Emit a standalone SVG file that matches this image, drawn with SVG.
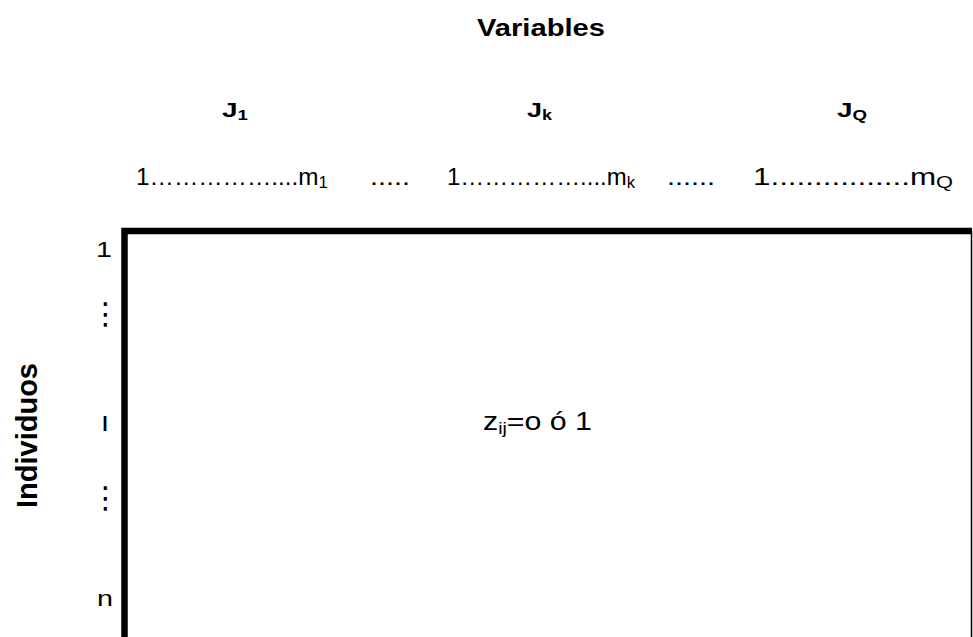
<svg xmlns="http://www.w3.org/2000/svg" width="973" height="637" viewBox="0 0 973 637">
<style>
text{font-family:"Liberation Sans",Arial,sans-serif;fill:#000}
.b{font-weight:bold}
.row{font-size:23px}
.lab{font-size:22px;text-anchor:middle}
.vd{font-family:"DejaVu Sans",sans-serif;font-size:30px;text-anchor:middle}
</style>
<rect width="973" height="637" fill="#fff"/>
<g id="title">
<text class="b" x="477" y="36" font-size="24" textLength="128" lengthAdjust="spacingAndGlyphs">Variables</text>
</g>
<g id="variables">
<text class="b" x="222" y="117" font-size="21" textLength="26" lengthAdjust="spacingAndGlyphs">J<tspan font-size="14" dy="3">1</tspan></text>
<text class="b" x="527" y="117" font-size="21" textLength="25" lengthAdjust="spacingAndGlyphs">J<tspan font-size="14" dy="3">k</tspan></text>
<text class="b" x="837" y="117" font-size="21" textLength="30" lengthAdjust="spacingAndGlyphs">J<tspan font-size="14" dy="3">Q</tspan></text>
</g>
<g id="categories">
<text class="row" x="136" y="185" textLength="192" lengthAdjust="spacingAndGlyphs">1……………....m<tspan font-size="16" dy="3">1</tspan></text>
<text class="row" x="370" y="185" textLength="40" lengthAdjust="spacingAndGlyphs">.....</text>
<text class="row" x="447" y="185" textLength="188" lengthAdjust="spacingAndGlyphs">1……………....m<tspan font-size="16" dy="3">k</tspan></text>
<text class="row" x="667" y="185" textLength="48" lengthAdjust="spacingAndGlyphs">......</text>
<text class="row" x="753" y="185" textLength="200" lengthAdjust="spacingAndGlyphs">1................m<tspan font-size="16" dy="3">Q</tspan></text>
</g>
<g id="individuos">
<text class="b" font-size="29" text-anchor="middle" transform="translate(37 435.5) rotate(-90)">Individuos</text>
</g>
<g id="row-labels">
<text class="lab" x="104" y="257" textLength="16" lengthAdjust="spacingAndGlyphs">1</text>
<text class="vd" x="105.5" y="324">⋮</text>
<text class="lab" x="105" y="431" font-size="25" textLength="8" lengthAdjust="spacingAndGlyphs">I</text>
<text class="vd" x="105.5" y="508">⋮</text>
<text class="lab" x="105" y="606" font-size="24" textLength="16" lengthAdjust="spacingAndGlyphs">n</text>
</g>
<g id="matrix">
<path d="M124.5 637 V231 H972" fill="none" stroke="#000" stroke-width="6.5"/>
<line x1="971.5" y1="231" x2="971.5" y2="637" stroke="#000" stroke-width="1.5"/>
<text x="483" y="430" font-size="25" textLength="109" lengthAdjust="spacingAndGlyphs">z<tspan font-size="16" dy="4">ij</tspan><tspan dy="-4">=o ó 1</tspan></text>
</g>
</svg>
